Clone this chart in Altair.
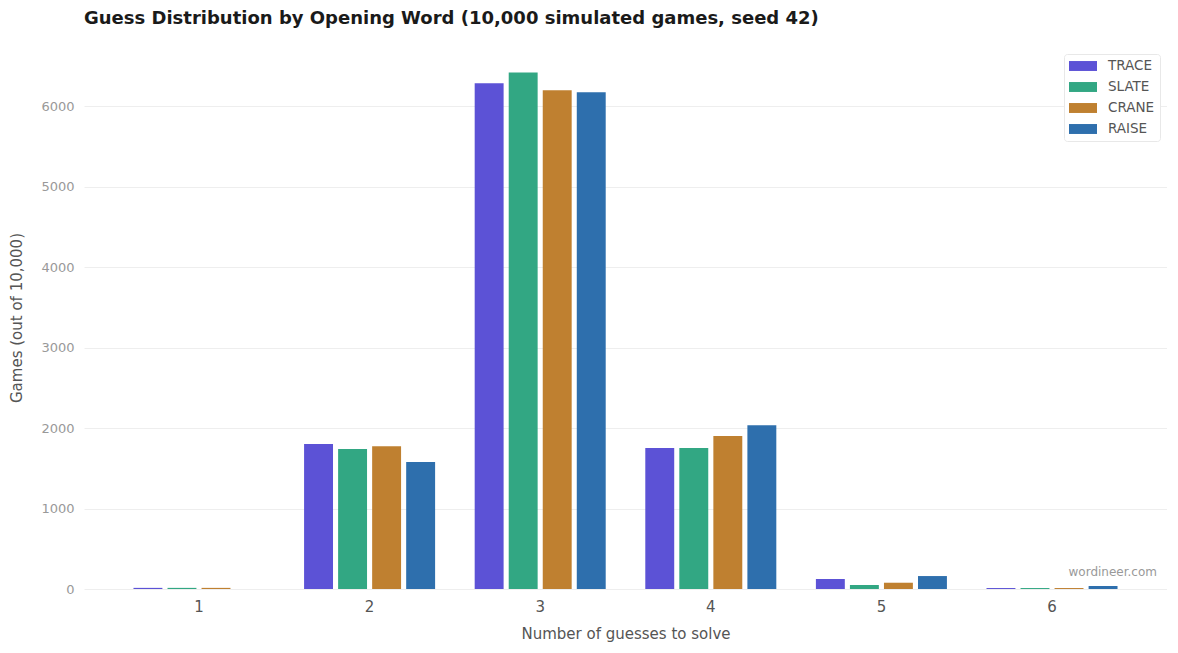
import altair as alt
import pandas as pd

guesses = [1, 2, 3, 4, 5, 6]
words = ["TRACE", "SLATE", "CRANE", "RAISE"]
colors = ["#5c52d6", "#32a783", "#bf8030", "#2e6fad"]

trace = [14, 1801, 6286, 1752, 124, 12]
slate = [14, 1739, 6422, 1752, 50, 12]
crane = [14, 1776, 6199, 1901, 78, 12]
raise_ = [0, 1578, 6174, 2037, 161, 37]

rows = []
for word, counts in zip(words, [trace, slate, crane, raise_]):
    for g, c in zip(guesses, counts):
        rows.append({"guesses": g, "word": word, "count": c})
df = pd.DataFrame(rows)

W, H = 1083, 543
FONT = "DejaVu Sans"

bars = alt.Chart(df).mark_bar().encode(
    x=alt.X("guesses:O", title="Number of guesses to solve",
            scale=alt.Scale(paddingInner=0.232, paddingOuter=0.29),
            axis=alt.Axis(labelAngle=0, labelFontSize=15, labelColor="#555555",
                          labelPadding=10, titleFontSize=15, titleColor="#555555",
                          titleFontWeight="normal", titlePadding=12,
                          domain=False, ticks=False, grid=False)),
    xOffset=alt.XOffset("word:N", sort=words,
                        scale=alt.Scale(paddingInner=0.15, paddingOuter=0)),
    y=alt.Y("count:Q", title="Games (out of 10,000)",
            scale=alt.Scale(domain=[0, 6750], nice=False),
            axis=alt.Axis(values=[0, 1000, 2000, 3000, 4000, 5000, 6000], format="d",
                          labelFontSize=13, labelColor="#999999", labelPadding=10,
                          titleFontSize=15, titleColor="#555555",
                          titleFontWeight="normal", titlePadding=16,
                          domain=False, ticks=False, gridColor="#eeeeee")),
    color=alt.Color("word:N", sort=words, title=None,
                    scale=alt.Scale(domain=words, range=colors),
                    legend=alt.Legend(orient="none", legendX=980, legendY=8,
                                      symbolType="M-2,-0.71H2V0.71H-2Z",
                                      symbolSize=196, symbolStrokeWidth=0,
                                      symbolOffset=7,
                                      labelFontSize=13.5, labelColor="#555555",
                                      labelOffset=18, rowPadding=7,
                                      padding=5, fillColor="white",
                                      strokeColor="#e8e8e8", cornerRadius=3)),
    tooltip=["guesses", "word", "count"],
)

mark = alt.Chart(pd.DataFrame({"t": ["wordineer.com"]})).mark_text(
    align="right", baseline="middle", fontSize=12, color="#999999", font=FONT
).encode(text="t:N", x=alt.value(W - 10), y=alt.value(H - 17))

chart = alt.layer(bars, mark).properties(
    width=W, height=H,
    title=alt.Title("Guess Distribution by Opening Word (10,000 simulated games, seed 42)",
                    anchor="start", frame="group", fontSize=18, fontWeight="bold",
                    color="#1a1a1a", offset=18),
    autosize=alt.AutoSizeParams(type="none"),
    padding={"left": 76, "top": 38, "right": 0, "bottom": 55},
).configure(font=FONT).configure_view(stroke=None)

chart.save("out.html", embed_options={"renderer": "svg", "actions": False})
